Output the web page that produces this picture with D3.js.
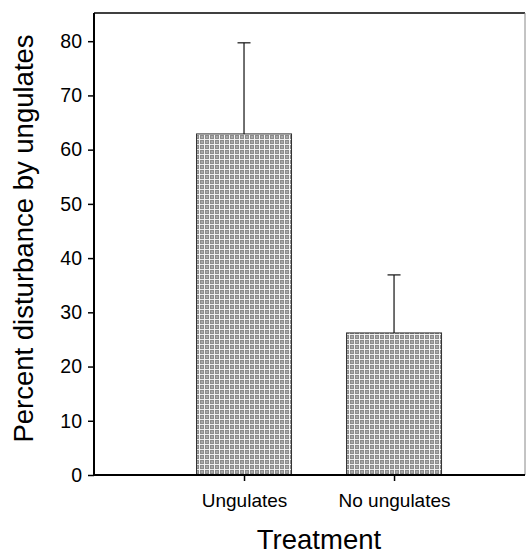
<!DOCTYPE html>
<html>
<head>
<meta charset="utf-8">
<script src="https://cdn.jsdelivr.net/npm/d3@7"></script>
<style>
  body { margin: 0; background: #fff; }
  svg { display: block; font-family: "Liberation Sans", Arial, sans-serif; }
</style>
</head>
<body>
<svg id="chart" width="526" height="556"></svg>
<script>
const categories = ["Ungulates", "No ungulates"];
const means = [62.9, 26.2];
const errUpper = [79.7, 36.9];
const yTicks = [0, 10, 20, 30, 40, 50, 60, 70, 80];

(function () {
const svg = d3.select("#chart");
const mLeft = 94, mRight = 525, mTop = 13, mBottom = 475;

const x = d3.scaleLinear().domain([0, 2.873]).range([mLeft, mRight]);
const y = d3.scaleLinear().domain([0, 85.2]).range([mBottom, mTop]);
const barW = 95;

// texture pattern
const defs = svg.append("defs");
const pat = defs.append("pattern")
  .attr("id", "hatch").attr("patternUnits", "userSpaceOnUse")
  .attr("width", 5).attr("height", 5);
pat.append("rect").attr("width", 5).attr("height", 5).attr("fill", "#8c8c8c");
pat.append("rect").attr("x", 0).attr("y", 4).attr("width", 5).attr("height", 1).attr("fill", "#eeeeee");
pat.append("rect").attr("x", 4).attr("y", 0).attr("width", 1).attr("height", 5).attr("fill", "#f4f4f4");
pat.append("rect").attr("x", 1).attr("y", 1).attr("width", 2).attr("height", 2).attr("fill", "#a8a8a8");

// frame (top & right)
svg.append("line").attr("x1", mLeft).attr("x2", mRight).attr("y1", mTop).attr("y2", mTop)
  .attr("stroke", "#000").attr("stroke-width", 1.6);
svg.append("line").attr("x1", mRight).attr("x2", mRight).attr("y1", mTop).attr("y2", mBottom)
  .attr("stroke", "#888").attr("stroke-width", 1);

// bars
const data = categories.map((c, i) => ({ c, i, m: means[i], e: errUpper[i] }));
svg.selectAll("rect.bar").data(data).enter().append("rect")
  .attr("class", "bar")
  .attr("x", d => x(d.i + 1) - barW / 2)
  .attr("y", d => y(d.m))
  .attr("width", barW)
  .attr("height", d => y(0) - y(d.m))
  .attr("fill", "url(#hatch)")
  .attr("stroke", "#333").attr("stroke-width", 1);

// error bars
svg.selectAll("line.err").data(data).enter().append("line")
  .attr("class", "err")
  .attr("x1", d => x(d.i + 1)).attr("x2", d => x(d.i + 1))
  .attr("y1", d => y(d.m)).attr("y2", d => y(d.e))
  .attr("stroke", "#111").attr("stroke-width", 1.2);
svg.selectAll("line.cap").data(data).enter().append("line")
  .attr("class", "cap")
  .attr("x1", d => x(d.i + 1) - 6.5).attr("x2", d => x(d.i + 1) + 6.5)
  .attr("y1", d => y(d.e)).attr("y2", d => y(d.e))
  .attr("stroke", "#111").attr("stroke-width", 1.2);

// y axis
const yAxis = d3.axisLeft(y).tickValues(yTicks).tickSize(6).tickPadding(6);
const gy = svg.append("g").attr("transform", `translate(${mLeft},0)`).call(yAxis);
gy.select(".domain").attr("d", `M0,${mTop}V${mBottom}`).attr("stroke-width", 2);
gy.selectAll(".tick line").attr("stroke-width", 1.5);
gy.selectAll(".tick text").attr("font-size", 19.5).attr("fill", "#000")
  .attr("font-family", "Liberation Sans, Arial, sans-serif");

// x axis
const xAxis = d3.axisBottom(x).tickValues([1, 2]).tickFormat(d => categories[d - 1])
  .tickSize(6).tickPadding(13);
const gx = svg.append("g").attr("transform", `translate(0,${mBottom})`).call(xAxis);
gx.select(".domain").attr("d", `M${mLeft},0H${mRight}`).attr("stroke-width", 2);
gx.selectAll(".tick line").attr("stroke-width", 1.5);
gx.selectAll(".tick text").attr("font-size", 19).attr("fill", "#000")
  .attr("font-family", "Liberation Sans, Arial, sans-serif");

// axis titles
svg.append("text").attr("x", 319).attr("y", 549)
  .attr("text-anchor", "middle").attr("font-size", 27.5).attr("fill", "#000")
  .text("Treatment");
svg.append("text")
  .attr("transform", `translate(33,238.5) rotate(-90)`)
  .attr("text-anchor", "middle").attr("font-size", 27.5).attr("fill", "#000")
  .text("Percent disturbance by ungulates");
})();
</script>
</body>
</html>
